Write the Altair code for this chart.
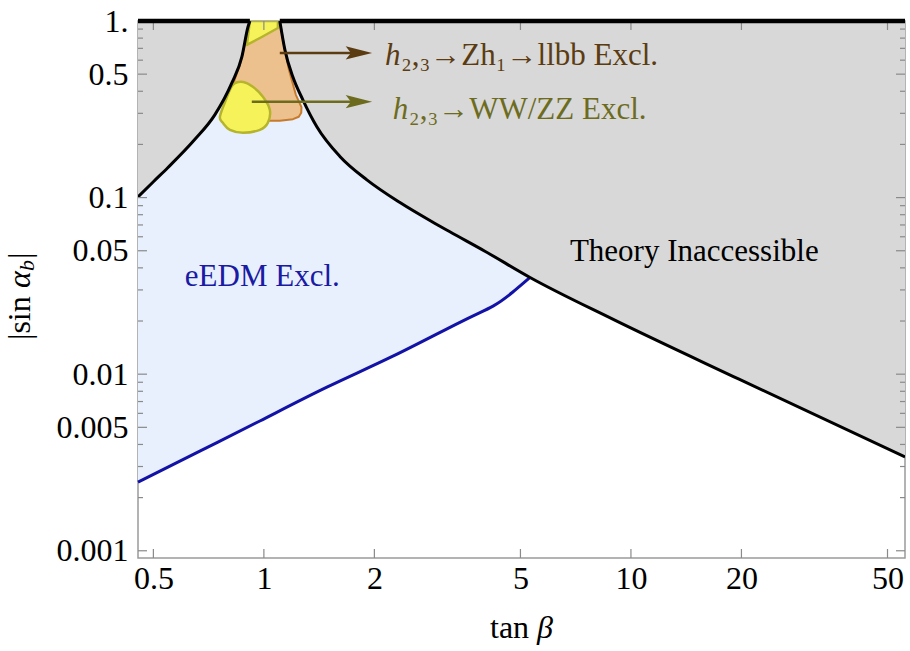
import altair as alt
import pandas as pd

W, H = 767, 537
XMIN, XMAX = 0.454, 55.8
YMIN, YMAX = 0.00091, 1.0
FONT = "Liberation Serif"

# Theory boundary (tan beta, |sin alpha_b|)
left_t = [0.454, 0.50, 0.548, 0.648, 0.735, 0.818, 0.871, 0.905, 0.916]
left_s = [0.101, 0.123, 0.148, 0.213, 0.294, 0.446, 0.626, 0.925, 1.0]
right_t = [1.105, 1.141, 1.199, 1.277, 1.394, 1.611, 1.908, 2.348, 2.887, 3.211, 4.0, 5.31, 8.92, 19.7, 55.8]
right_s = [1.0, 0.686, 0.483, 0.358, 0.252, 0.171, 0.126, 0.0937, 0.0725, 0.0640, 0.0497, 0.0353, 0.0205, 0.00937, 0.0034]
top_left_t = [0.454, 0.916]
top_right_t = [1.105, 55.8]

# eEDM exclusion boundary
edm_t = [0.454, 0.669, 0.975, 1.485, 2.246, 3.42, 4.21, 4.75, 5.31]
edm_s = [0.00245, 0.00367, 0.00543, 0.00844, 0.01264, 0.01967, 0.0243, 0.0290, 0.0353]

# h2,3 -> Z h1 -> llbb exclusion (orange)
orange_t = [0.916, 1.105, 1.134, 1.170, 1.222, 1.266, 1.264, 1.245, 1.200, 1.105, 1.025, 0.916, 0.793, 0.823, 0.860, 0.882, 0.905]
orange_s = [1.0, 1.0, 0.732, 0.529, 0.382, 0.325, 0.302, 0.287, 0.278, 0.272, 0.272, 0.294, 0.358, 0.435, 0.564, 0.700, 0.900]

# h2,3 -> WW/ZZ exclusion (yellow), two pieces
yel1_t = [0.916, 1.092, 1.092, 0.987, 0.899]
yel1_s = [1.0, 1.0, 0.913, 0.812, 0.732]
yel2_t = [0.823, 0.877, 0.933, 0.994, 1.038, 1.025, 0.975, 0.877, 0.808, 0.773, 0.759, 0.788]
yel2_s = [0.435, 0.452, 0.424, 0.372, 0.314, 0.265, 0.242, 0.233, 0.242, 0.265, 0.287, 0.358]

# Axis ticks
x_major = [0.5, 1, 2, 5, 10, 20, 50]
y_major = [0.001, 0.005, 0.01, 0.05, 0.1, 0.5, 1]
y_minor = [0.002, 0.003, 0.004, 0.006, 0.007, 0.008, 0.009,
           0.02, 0.03, 0.04, 0.06, 0.07, 0.08, 0.09,
           0.2, 0.3, 0.4, 0.6, 0.7, 0.8, 0.9]

# Arrows
arrow1_t = [1.105, 1.815]
arrow1_s = [0.659, 0.659]
arrow2_t = [0.927, 1.815]
arrow2_s = [0.349, 0.349]

# Annotations
lab_t = [2.137, 2.246, 6.82, 0.609]
lab_s = [0.564, 0.279, 0.0435, 0.0314]
lab_txt = ["₂,₃→Zh₁→llbb Excl.", "₂,₃→WW/ZZ Excl.", "Theory Inaccessible", "eEDM Excl."]

BROWN = "#5b3c12"
OLIVE = "#6d6c1e"
lab_col = [BROWN, OLIVE, "black", "#1a1aa4"]
lab_dx = [16, 16, 0, 0]

xs = alt.Scale(type="log", domain=[XMIN, XMAX], nice=False)
ys = alt.Scale(type="log", domain=[YMIN, YMAX], nice=False)

x_axis = alt.Axis(values=x_major, format="~g", ticks=False, domain=False, grid=False,
                  labelFont=FONT, labelFontSize=32, labelColor="black", labelPadding=5,
                  title=None, labelFlush=False, labelOverlap=False)
y_axis = alt.Axis(values=y_major, labelExpr="datum.value == 1 ? '1.' : format(datum.value, '~g')",
                  ticks=False, domain=False, grid=False,
                  labelFont=FONT, labelFontSize=32, labelColor="black", labelPadding=10,
                  title=None, labelFlush=False, labelOverlap=False)


def X(f="t"):
    return alt.X(f, type="quantitative", scale=xs, axis=x_axis)


def Y(f="s"):
    return alt.Y(f, type="quantitative", scale=ys, axis=y_axis)


boundary = pd.concat([
    pd.DataFrame({"t": left_t, "s": left_s, "seg": "L"}),
    pd.DataFrame({"t": right_t, "s": right_s, "seg": "R"}),
])
tops = pd.concat([
    pd.DataFrame({"t": top_left_t, "s": [1.0, 1.0], "seg": "TL"}),
    pd.DataFrame({"t": top_right_t, "s": [1.0, 1.0], "seg": "TR"}),
])
edm = pd.DataFrame({"t": edm_t, "s": edm_s})


def poly(ts, ss):
    return pd.DataFrame({"t": ts, "s": ss, "o": list(range(len(ts)))})


blue = alt.Chart(edm).mark_area(color="#e7f0fc", opacity=1, interpolate="natural").encode(
    x=X(), y=Y(), y2=alt.datum(1.0))

gray = alt.Chart(boundary).mark_area(color="#d8d8d8", opacity=1, interpolate="monotone").encode(
    x=X(), y=Y(), y2=alt.datum(1.0), detail="seg:N")

orange = alt.Chart(poly(orange_t, orange_s)).mark_line(
    fill="#edc18d", stroke="#c77a2c", strokeWidth=2, strokeJoin="round", interpolate="linear-closed",
    clip=True).encode(x=X(), y=Y(), order="o:Q")
yel1 = alt.Chart(poly(yel1_t, yel1_s)).mark_line(
    fill="#f6f35a", stroke="#b5b42c", strokeWidth=2.5, strokeJoin="round", interpolate="linear-closed",
    clip=True).encode(x=X(), y=Y(), order="o:Q")
yel2 = alt.Chart(poly(yel2_t, yel2_s)).mark_line(
    fill="#f6f35a", stroke="#b5b42c", strokeWidth=2.5, strokeJoin="round", interpolate="cardinal-closed",
    clip=True).encode(x=X(), y=Y(), order="o:Q")

edm_line = alt.Chart(edm).mark_line(color="#1212a6", strokeWidth=3, interpolate="natural").encode(x=X(), y=Y())

bline = alt.Chart(boundary).mark_line(color="black", strokeWidth=3, clip=True, interpolate="monotone").encode(
    x=X(), y=Y(), detail="seg:N")
tline = alt.Chart(tops).mark_line(color="black", strokeWidth=4.5, clip=False).encode(
    x=X(), y=Y(), detail="seg:N")

TC = "#8a8a8a"
xt = pd.DataFrame({"t": x_major})
ytM = pd.DataFrame({"s": y_major})
ytm = pd.DataFrame({"s": y_minor})
ticks = [
    alt.Chart(xt).mark_rule(color=TC, strokeWidth=1.2).encode(x=X(), y=alt.value(H), y2=alt.value(H - 9)),
    alt.Chart(xt).mark_rule(color=TC, strokeWidth=1.2).encode(x=X(), y=alt.value(0), y2=alt.value(9)),
    alt.Chart(ytM).mark_rule(color=TC, strokeWidth=1.2).encode(y=Y(), x=alt.value(0), x2=alt.value(9)),
    alt.Chart(ytm).mark_rule(color=TC, strokeWidth=1.2).encode(y=Y(), x=alt.value(0), x2=alt.value(5)),
    alt.Chart(ytM).mark_rule(color=TC, strokeWidth=1.2).encode(y=Y(), x=alt.value(W), x2=alt.value(W - 9)),
    alt.Chart(ytm).mark_rule(color=TC, strokeWidth=1.2).encode(y=Y(), x=alt.value(W), x2=alt.value(W - 5)),
]

ARROW = "M -1 -0.5 L 1 0 L -1 0.5 L -0.6 0 Z"
a1 = pd.DataFrame({"t": arrow1_t, "s": arrow1_s})
a2 = pd.DataFrame({"t": arrow2_t, "s": arrow2_s})
arrows = [
    alt.Chart(a1).mark_line(color=BROWN, strokeWidth=2.5).encode(x=X(), y=Y()),
    alt.Chart(a1.tail(1)).mark_point(shape=ARROW, size=700, filled=True, color=BROWN, opacity=1).encode(x=X(), y=Y()),
    alt.Chart(a2).mark_line(color=OLIVE, strokeWidth=2.5).encode(x=X(), y=Y()),
    alt.Chart(a2.tail(1)).mark_point(shape=ARROW, size=700, filled=True, color=OLIVE, opacity=1).encode(x=X(), y=Y()),
]

texts = []
for i in range(len(lab_t)):
    d = pd.DataFrame({"t": [lab_t[i]], "s": [lab_s[i]], "txt": [lab_txt[i]]})
    texts.append(alt.Chart(d).mark_text(font=FONT, fontSize=31, align="left", baseline="alphabetic",
                                        color=lab_col[i], dx=lab_dx[i]).encode(x=X(), y=Y(), text="txt:N"))
for i in range(2):
    d = pd.DataFrame({"t": [lab_t[i]], "s": [lab_s[i]], "txt": ["h"]})
    texts.append(alt.Chart(d).mark_text(font=FONT, fontSize=31, fontStyle="italic", align="left",
                                        baseline="alphabetic", color=lab_col[i]).encode(x=X(), y=Y(), text="txt:N"))


# axis titles, built from pieces so that beta, alpha and b can be italic
def piece(txt, **kw):
    return alt.Chart(pd.DataFrame({"txt": [txt]})).mark_text(font=FONT, **kw)


YT = 319
titles = [
    piece("tan ", fontSize=32, align="left", baseline="alphabetic").encode(
        text="txt:N", x=alt.value(352), y=alt.value(617)),
    piece("β", fontSize=32, fontStyle="italic", align="left", baseline="alphabetic", dx=47).encode(
        text="txt:N", x=alt.value(352), y=alt.value(617)),
    piece("|sin ", fontSize=32, align="left", baseline="middle", angle=270).encode(
        text="txt:N", x=alt.value(-118), y=alt.value(YT)),
    piece("α", fontSize=32, fontStyle="italic", align="left", baseline="middle", angle=270, dx=52).encode(
        text="txt:N", x=alt.value(-118), y=alt.value(YT)),
    piece("b", fontSize=22, fontStyle="italic", align="left", baseline="middle", angle=270, dx=69, dy=7).encode(
        text="txt:N", x=alt.value(-118), y=alt.value(YT)),
    piece("|", fontSize=32, align="left", baseline="middle", angle=270, dx=81).encode(
        text="txt:N", x=alt.value(-118), y=alt.value(YT)),
]

chart = alt.layer(
    blue, gray, orange, yel1, yel2, edm_line, bline, *ticks, tline, *arrows, *texts, *titles
).properties(
    width=W, height=H,
    autosize=alt.AutoSizeParams(type="none"),
    padding={"left": 138, "top": 21, "right": 5, "bottom": 93},
    background="white",
).configure_view(stroke="#9a9a9a", strokeWidth=1.5)

chart.save("out.html", embed_options={"renderer": "svg", "actions": False})
